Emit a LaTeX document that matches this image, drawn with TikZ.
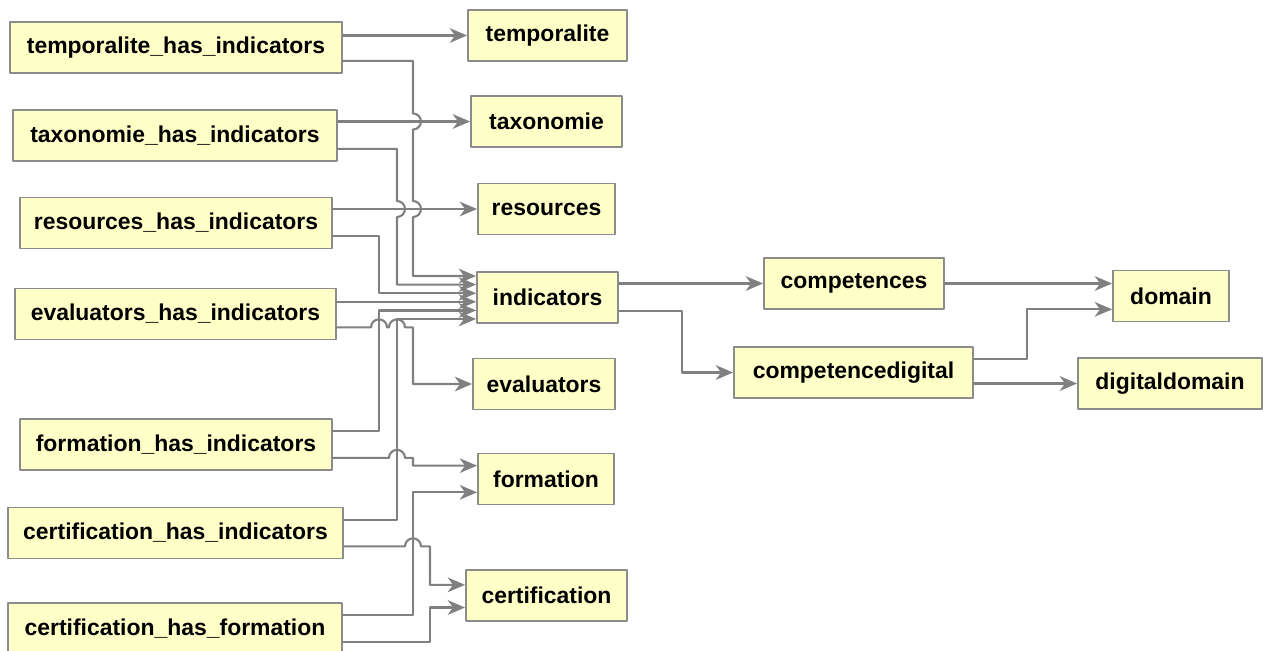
\documentclass[tikz,border=0pt]{standalone}
\usepackage{fontspec}
\setmainfont{Liberation Sans}
\usetikzlibrary{arrows.meta,calc}
\definecolor{boxfill}{HTML}{FFFFC8}
\definecolor{boxgray}{HTML}{8C8C8C}
\definecolor{linegray}{HTML}{808080}

\begin{document}
\begin{tikzpicture}[x=0.75pt,y=-0.75pt,line cap=round,line join=round,
  tbl/.style={draw=boxgray,fill=boxfill,line width=1.4pt,minimum height=38.25pt,inner sep=0pt,
    font=\fontsize{17.2pt}{20pt}\selectfont\bfseries},
  conn/.style={draw=linegray,line width=1.6pt,-{Stealth[length=13pt,width=11pt,inset=4pt]}}]
  \useasboundingbox (0,0) rectangle (1263,650);
  \node[tbl,minimum width=249pt] (thi) at (176,47.5) {temporalite\_has\_indicators};
  \node[tbl,minimum width=243pt] (txi) at (175,135.5) {taxonomie\_has\_indicators};
  \node[tbl,minimum width=234pt] (rhi) at (176,223) {resources\_has\_indicators};
  \node[tbl,minimum width=240.75pt] (ehi) at (175.5,314) {evaluators\_has\_indicators};
  \node[tbl,minimum width=234pt] (fhi) at (176,444.5) {formation\_has\_indicators};
  \node[tbl,minimum width=251.25pt] (chi) at (175.5,533) {certification\_has\_indicators};
  \node[tbl,minimum width=250.5pt] (chf) at (175,628.5) {certification\_has\_formation};
  \node[tbl,minimum width=119.25pt] (temporalite) at (547.5,35.5) {temporalite};
  \node[tbl,minimum width=113.25pt] (taxonomie) at (546.5,121.5) {taxonomie};
  \node[tbl,minimum width=102.75pt] (resources) at (546.5,209) {resources};
  \node[tbl,minimum width=105.75pt] (indicators) at (547.5,297.5) {indicators};
  \node[tbl,minimum width=106.5pt] (evaluators) at (544,384) {evaluators};
  \node[tbl,minimum width=102pt] (formation) at (546,479) {formation};
  \node[tbl,minimum width=120.75pt] (certification) at (546.5,595.5) {certification};
  \node[tbl,minimum width=135pt] (competences) at (854,283.5) {competences};
  \node[tbl,minimum width=179.25pt] (competencedigital) at (853.5,372.5) {competencedigital};
  \node[tbl,minimum width=87pt] (domain) at (1171,296) {domain};
  \node[tbl,minimum width=138pt] (digitaldomain) at (1170,383.5) {digitaldomain};
  \coordinate (laneA) at (379,0);
  \coordinate (laneB) at (397,0);
  \coordinate (laneC) at (413,0);
  \coordinate (laneD) at (430,0);
  \coordinate (in1) at ([yshift=16.1pt]indicators.west);
  \coordinate (in2) at ([yshift=9.7pt]indicators.west);
  \coordinate (in3) at ([yshift=3.2pt]indicators.west);
  \coordinate (in4) at ([yshift=-3.2pt]indicators.west);
  \coordinate (in5) at ([yshift=-9.7pt]indicators.west);
  \coordinate (in6) at ([yshift=-16.1pt]indicators.west);
  \coordinate (fo1) at ([yshift=10pt]formation.west);
  \coordinate (fo2) at ([yshift=-10pt]formation.west);
  \coordinate (ce1) at ([yshift=8pt]certification.west);
  \coordinate (ce2) at ([yshift=-9pt]certification.west);
  \coordinate (ev0) at ([yshift=-10pt]ehi.east);
  \coordinate (fh0) at ([yshift=-10pt]fhi.east);
  \coordinate (ch0) at ([yshift=-10pt]chi.east);
  \draw[conn] (thi.east |- temporalite) -- (temporalite);
  \draw[conn] ([yshift=-10pt]thi.east) -| ($(laneC |- taxonomie)+(0,-8)$)
    arc[start angle=90,end angle=-90,radius=6pt] -- ($(laneC |- resources)+(0,-8)$)
    arc[start angle=90,end angle=-90,radius=6pt] |- (in1);
  \draw[conn] (txi.east |- taxonomie) -- (taxonomie);
  \draw[conn] ([yshift=-10pt]txi.east) -| ($(laneB |- resources)+(0,-8)$)
    arc[start angle=90,end angle=-90,radius=6pt] |- (in2);
  \draw[conn] (rhi.east |- resources) -- (resources);
  \draw[conn] ([yshift=-10pt]rhi.east) -| (laneA |- in3) -- (in3);
  \draw[conn] (ehi.east |- in4) -- (in4);
  \draw[conn] (ev0) -- ($(laneA |- ev0)+(-8,0)$) arc[start angle=180,end angle=0,radius=6pt]
    -- ($(laneB |- ev0)+(-8,0)$) arc[start angle=180,end angle=0,radius=6pt]
    -| (laneC |- evaluators) -- (evaluators);
  \draw[conn] ([yshift=10pt]fhi.east) -| (laneA |- in5) -- (in5);
  \draw[conn] (fh0) -- ($(laneB |- fh0)+(-8,0)$) arc[start angle=180,end angle=0,radius=6pt]
    -| (laneC |- fo1) -- (fo1);
  \draw[conn] ([yshift=10pt]chi.east) -| (laneB |- in6) -- (in6);
  \draw[conn] (ch0) -- ($(laneC |- ch0)+(-8,0)$) arc[start angle=180,end angle=0,radius=6pt]
    -| (laneD |- ce1) -- (ce1);
  \draw[conn] ([yshift=10pt]chf.east) -| (laneC |- fo2) -- (fo2);
  \draw[conn] ([yshift=-10pt]chf.east) -| (laneD |- ce2) -- (ce2);
  \draw[conn] (indicators.east |- competences) -- (competences);
  \draw[conn] ([yshift=-10pt]indicators.east) -- ++(63,0) |- (competencedigital);
  \draw[conn] (competences) -- (domain.west |- competences);
  \draw[conn] ([yshift=10pt]competencedigital.east) -- ++(53,0) |- ([yshift=-10pt]domain.west);
  \draw[conn] (competencedigital.east |- digitaldomain) -- (digitaldomain);
\end{tikzpicture}
\end{document}
